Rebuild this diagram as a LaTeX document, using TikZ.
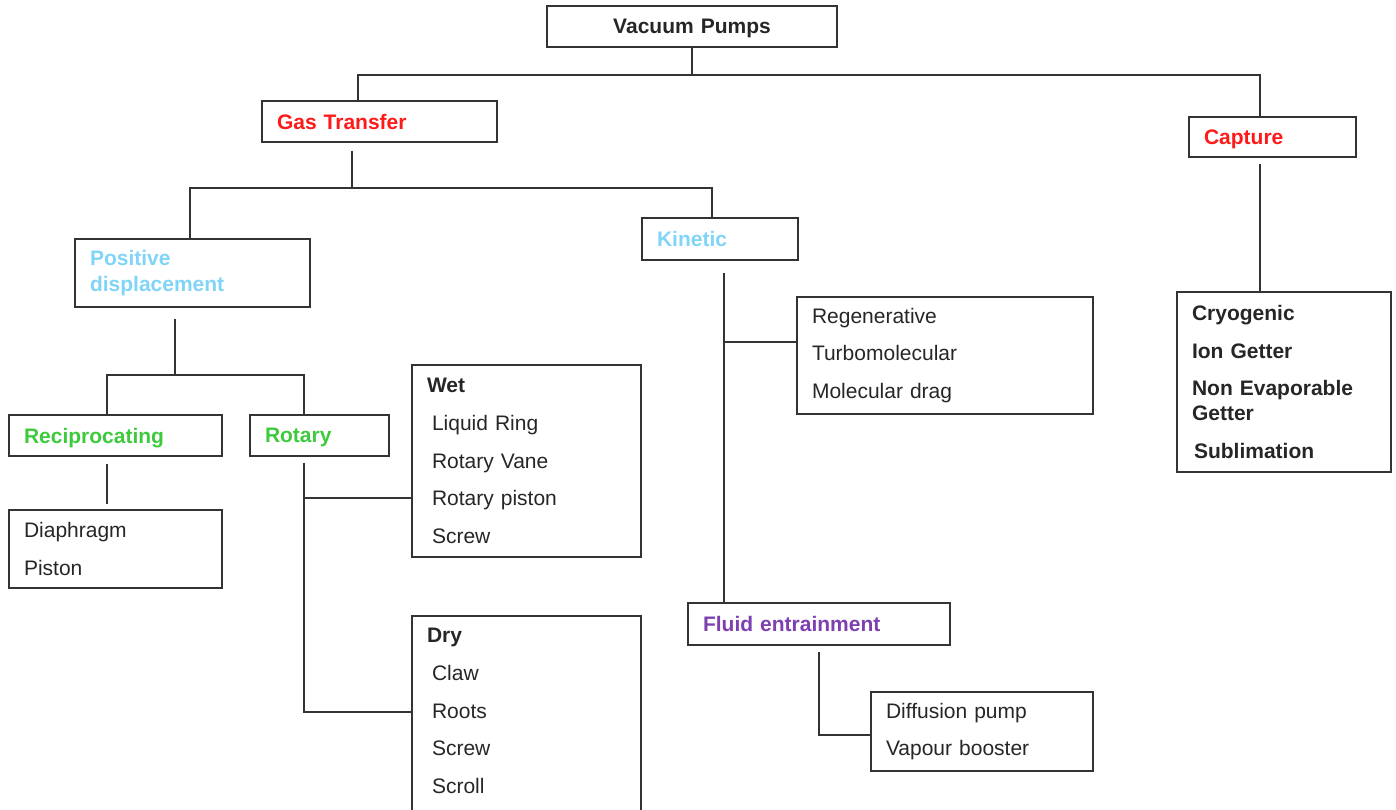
\documentclass[tikz,border=0pt]{standalone}
\usepackage{fontspec}
\setmainfont{Liberation Sans}
\usepackage{tikz}
\definecolor{gasred}{HTML}{FF1A1A}
\definecolor{skyblue}{HTML}{80D4F8}
\definecolor{leafgreen}{HTML}{3DCB3D}
\definecolor{fluidpurple}{HTML}{7E3FB0}
\definecolor{linegray}{HTML}{333333}
\definecolor{inkgray}{HTML}{262626}
\begin{document}
\begin{tikzpicture}[x=1pt,y=-1pt,
    box/.style={draw=linegray, line width=1.6pt, rectangle, inner xsep=15pt, inner ysep=0pt,
      align=left, text=inkgray, font=\fontsize{21}{37.7}\selectfont},
    head/.style={box, font=\fontsize{21}{25}\selectfont\bfseries, text depth=0pt},
    conn/.style={draw=linegray, line width=1.6pt}]
  \useasboundingbox (0,0) rectangle (1396,809);
  \node[head, align=center, text width=260pt, minimum height=41pt] (vac) at (692, 26.5) {Vacuum Pumps};
  \node[head, text width=205pt, minimum height=41pt, text=gasred] (gas) at (379.5, 121.5) {Gas Transfer};
  \node[head, text width=137pt, minimum height=40pt, text=gasred] (cap) at (1272.5, 137) {Capture};
  \node[box, text width=205pt, minimum height=68pt, text=skyblue, font=\fontsize{21}{26}\selectfont\bfseries] (pd) at (192.5, 273) {Positive\\displacement};
  \node[head, text width=126pt, minimum height=42pt, text=skyblue] (kin) at (720, 239) {Kinetic};
  \node[head, text width=183pt, minimum height=41pt, text=leafgreen] (rec) at (115.5, 435.5) {Reciprocating};
  \node[head, text width=109pt, minimum height=41pt, text=leafgreen] (rot) at (319.5, 435.5) {Rotary};
  \node[box, text width=183pt, minimum height=78pt] (dia) at (115.5, 549) {Diaphragm\\Piston};
  \node[box, text width=199pt, minimum height=192pt] (wet) at (526.5, 461) {\textbf{Wet}\\\hspace*{5pt}Liquid Ring\\\hspace*{5pt}Rotary Vane\\\hspace*{5pt}Rotary piston\\\hspace*{5pt}Screw};
  \node[box, text width=199pt, minimum height=200pt, text depth=161pt] (dry) at (526.5, 716) {\textbf{Dry}\\\hspace*{5pt}Claw\\\hspace*{5pt}Roots\\\hspace*{5pt}Screw\\\hspace*{5pt}Scroll};
  \node[box, text width=266pt, minimum height=117pt] (reg) at (945, 355.5) {Regenerative\\Turbomolecular\\Molecular drag};
  \node[head, text width=232pt, minimum height=42pt, text=fluidpurple] (flu) at (819, 624) {Fluid entrainment};
  \node[box, text width=192pt, minimum height=79pt] (dif) at (982, 731.5) {Diffusion pump\\Vapour booster};
  \node[box, text width=184pt, minimum height=180pt, font=\fontsize{21}{37.7}\selectfont\bfseries] (cry) at (1284, 382) {Cryogenic\\Ion Getter\\Non Evaporable\\[-12.7pt]Getter\\\hspace*{2pt}Sublimation};
  \coordinate (j1) at (692, 75);
  \coordinate (j2) at (352, 188);
  \coordinate (j3) at (175, 375);
  \coordinate (j4) at (304, 498);
  \coordinate (j5) at (724, 342);
  \draw[conn] (vac.south) -- (j1) -| ([xshift=-21.5pt]gas.north);
  \draw[conn] (j1) -| ([xshift=-12.5pt]cap.north);
  \draw[conn] ([xshift=-27.5pt,yshift=-8pt]gas.south) -- (j2) -| ([xshift=-2.5pt]pd.north);
  \draw[conn] (j2) -| ([xshift=-8pt]kin.north);
  \draw[conn] ([xshift=-17.5pt,yshift=-11pt]pd.south) -- (j3) -| ([xshift=-8.5pt]rec.north);
  \draw[conn] (j3) -| ([xshift=-15.5pt]rot.north);
  \draw[conn] ([xshift=-8.5pt,yshift=-7pt]rec.south) -- ([xshift=-8.5pt,yshift=5pt]dia.north);
  \draw[conn] ([xshift=-15.5pt,yshift=-6pt]rot.south) |- (dry.west |- 0,712);
  \draw[conn] (j4) -- (wet.west |- j4);
  \draw[conn] ([xshift=4pt,yshift=-12pt]kin.south) -- ([xshift=-95pt]flu.north);
  \draw[conn] (j5) -- (reg.west |- j5);
  \draw[conn] ([yshift=-6pt]flu.south) |- ([yshift=-3.5pt]dif.west);
  \draw[conn] ([xshift=-12.5pt,yshift=-6pt]cap.south) -- ([xshift=-24pt]cry.north);
\end{tikzpicture}
\end{document}
